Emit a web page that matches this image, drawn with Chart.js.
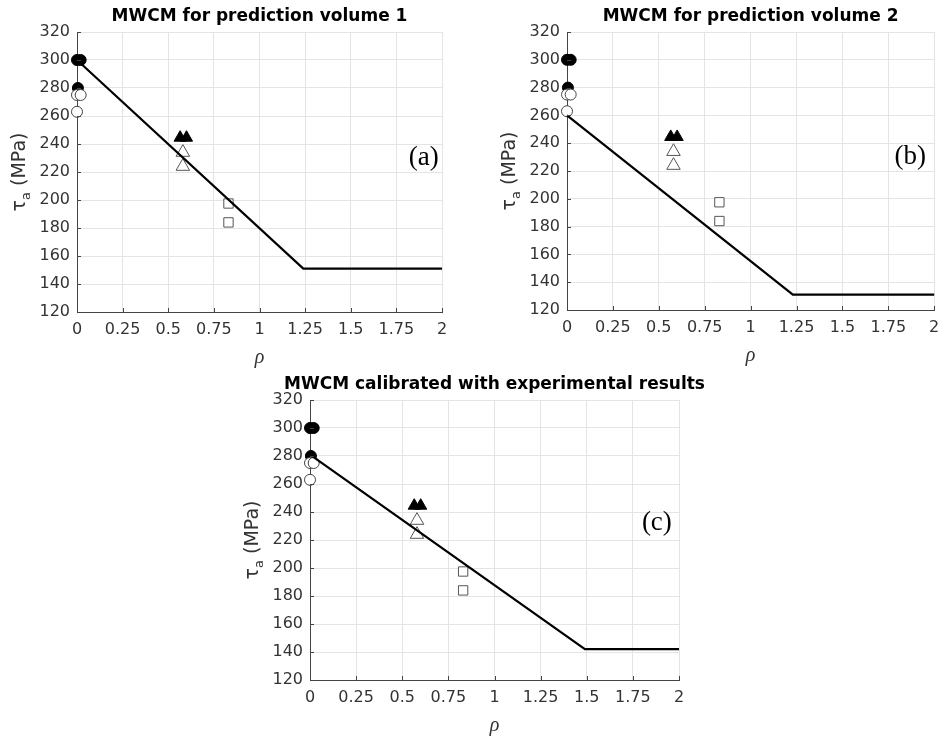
<!DOCTYPE html>
<html>
<head>
<meta charset="utf-8">
<script src="https://cdn.jsdelivr.net/npm/chart.js@4.4.0/dist/chart.umd.min.js"></script>
<style>
html, body { margin: 0; padding: 0; background: #fff; }
body { width: 943px; height: 737px; position: relative; overflow: hidden; }
.panel { position: absolute; }
</style>
</head>
<body>
<div class="panel" style="left:0;top:0;width:460px;height:370px"><canvas id="chartA"></canvas></div>
<div class="panel" style="left:480px;top:0;width:463px;height:370px"><canvas id="chartB"></canvas></div>
<div class="panel" style="left:220px;top:370px;width:490px;height:367px"><canvas id="chartC"></canvas></div>
<script>
// Axis ticks
const xTicks = [0, 0.25, 0.5, 0.75, 1, 1.25, 1.5, 1.75, 2];
const yTicks = [120, 140, 160, 180, 200, 220, 240, 260, 280, 300, 320];

// Experimental points (same on all three panels)
const filledCircleX = [0, 0.02, 0.005];
const filledCircleY = [300, 300, 280];
const openCircleX = [0, 0.02, 0];
const openCircleY = [275, 275, 263];
const filledTriX = [0.565, 0.6];
const filledTriY = [244.5, 244.5];
const openTriX = [0.58, 0.58];
const openTriY = [234, 224];
const squareX = [0.83, 0.83];
const squareY = [197.5, 184];

// MWCM curves
const modelAX = [0, 1.24, 2];
const modelAY = [300, 151, 151];
const modelBX = [0, 1.23, 2];
const modelBY = [260, 131, 131];
const modelCX = [0, 1.49, 2];
const modelCY = [281, 142, 142];

const titles = ['MWCM for prediction volume 1', 'MWCM for prediction volume 2', 'MWCM calibrated with experimental results'];
const panelLabels = ['(a)', '(b)', '(c)'];
const panelLabelX = [1.9, 1.87, 1.88];
const panelLabelY = [230, 230, 232];

function pts(xs, ys) {
    return xs.map((x, i) => ({x: x, y: ys[i]}));
}

const sans = '"DejaVu Sans", Verdana, sans-serif';

// Draws title, axis labels and panel letter
const textPlugin = {
    id: 'textPlugin',
    afterDraw(chart, args, opts) {
        const ctx = chart.ctx;
        const area = chart.chartArea;
        const xs = chart.scales.x;
        const ys = chart.scales.y;
        const cx = (area.left + area.right) / 2;
        const cy = (area.top + area.bottom) / 2;
        ctx.save();

        // inward tick marks
        ctx.strokeStyle = '#444';
        ctx.lineWidth = 1;
        ctx.beginPath();
        xTicks.forEach(v => {
            const px = Math.round(xs.getPixelForValue(v)) + 0.5;
            ctx.moveTo(px, area.bottom);
            ctx.lineTo(px, area.bottom - 4);
        });
        yTicks.forEach(v => {
            const py = Math.round(ys.getPixelForValue(v)) + 0.5;
            ctx.moveTo(area.left, py);
            ctx.lineTo(area.left + 4, py);
        });
        ctx.stroke();

        // title
        ctx.fillStyle = '#000';
        ctx.font = 'bold 17px ' + sans;
        ctx.textAlign = 'center';
        ctx.textBaseline = 'middle';
        ctx.fillText(opts.title, cx, area.top - 15);

        // x label
        ctx.fillStyle = '#333';
        ctx.font = 'italic 20px "Liberation Serif", serif';
        ctx.fillText('\u03C1', cx, area.bottom + 46);

        // y label: tau_a (MPa)
        ctx.translate(area.left - 52, cy);
        ctx.rotate(-Math.PI / 2);
        ctx.textAlign = 'left';
        ctx.textBaseline = 'alphabetic';
        const big = '19px ' + sans;
        const small = '13px ' + sans;
        ctx.font = big;
        const wTau = ctx.measureText('\u03C4').width;
        const wUnit = ctx.measureText(' (MPa)').width;
        ctx.font = small;
        const wSub = ctx.measureText('a').width;
        let x0 = -(wTau + wSub + wUnit) / 2;
        ctx.font = big;
        ctx.fillText('\u03C4', x0, 0);
        ctx.font = small;
        ctx.fillText('a', x0 + wTau, 5);
        ctx.font = big;
        ctx.fillText(' (MPa)', x0 + wTau + wSub, 0);
        ctx.setTransform(1, 0, 0, 1, 0, 0);
        ctx.restore();

        // panel letter
        ctx.save();
        ctx.fillStyle = '#000';
        ctx.font = '27px "Liberation Serif", "Times New Roman", serif';
        ctx.textAlign = 'center';
        ctx.textBaseline = 'middle';
        ctx.fillText(opts.label, xs.getPixelForValue(opts.lx), ys.getPixelForValue(opts.ly));
        ctx.restore();
    }
};

function makeChart(id, idx, lineX, lineY, box) {
    const ctx = document.getElementById(id).getContext('2d');
    const tickFont = {family: sans, size: 16};
    return new Chart(ctx, {
        type: 'scatter',
        data: {
            datasets: [
                {
                    label: 'MWCM',
                    data: pts(lineX, lineY),
                    showLine: true,
                    borderColor: '#000',
                    borderWidth: 2.2,
                    pointRadius: 0
                },
                {
                    label: 'squares',
                    data: pts(squareX, squareY),
                    pointStyle: 'rect',
                    pointRadius: 6.6,
                    backgroundColor: '#fff',
                    borderColor: '#555',
                    borderWidth: 1
                },
                {
                    label: 'open triangles',
                    data: pts(openTriX, openTriY),
                    pointStyle: 'triangle',
                    pointRadius: 7.8,
                    backgroundColor: '#fff',
                    borderColor: '#555',
                    borderWidth: 1
                },
                {
                    label: 'filled triangles',
                    data: pts(filledTriX, filledTriY),
                    pointStyle: 'triangle',
                    pointRadius: 7,
                    backgroundColor: '#000',
                    borderColor: '#000',
                    borderWidth: 1
                },
                {
                    label: 'open circles',
                    data: pts(openCircleX, openCircleY),
                    pointStyle: 'circle',
                    pointRadius: 5.5,
                    backgroundColor: '#fff',
                    borderColor: '#444',
                    borderWidth: 1
                },
                {
                    label: 'filled circles',
                    data: pts(filledCircleX, filledCircleY),
                    pointStyle: 'circle',
                    pointRadius: 5.5,
                    backgroundColor: '#000',
                    borderColor: '#000',
                    borderWidth: 1
                }
            ].map(d => Object.assign({clip: false, pointHoverRadius: d.pointRadius}, d))
        },
        options: {
            responsive: true,
            maintainAspectRatio: false,
            animation: false,
            events: [],
            layout: {padding: {left: 0, top: box.top, right: box.right, bottom: 0}},
            plugins: {
                legend: {display: false},
                tooltip: {enabled: false},
                textPlugin: {title: titles[idx], label: panelLabels[idx], lx: panelLabelX[idx], ly: panelLabelY[idx]}
            },
            scales: {
                x: {
                    type: 'linear',
                    min: 0,
                    max: 2,
                    afterBuildTicks: s => { s.ticks = xTicks.map(v => ({value: v})); },
                    afterFit: s => { s.height = box.bottom; s.paddingLeft = 0; s.paddingRight = 0; },
                    ticks: {
                        callback: v => String(v),
                        color: '#333',
                        font: tickFont,
                        padding: 8,
                        maxRotation: 0,
                        autoSkip: false
                    },
                    grid: {color: '#e4e4e4', drawTicks: false},
                    border: {display: true, color: '#444'}
                },
                y: {
                    type: 'linear',
                    min: 120,
                    max: 320,
                    afterBuildTicks: s => { s.ticks = yTicks.map(v => ({value: v})); },
                    afterFit: s => { s.width = box.left; s.paddingTop = 0; s.paddingBottom = 0; },
                    ticks: {
                        callback: v => String(v),
                        color: '#333',
                        font: tickFont,
                        padding: 7,
                        autoSkip: false
                    },
                    grid: {color: '#e4e4e4', drawTicks: false},
                    border: {display: true, color: '#444'}
                }
            }
        },
        plugins: [textPlugin]
    });
}

makeChart('chartA', 0, modelAX, modelAY, {left: 77, top: 32, right: 18, bottom: 58});
makeChart('chartB', 1, modelBX, modelBY, {left: 87, top: 32, right: 7, bottom: 60});
makeChart('chartC', 2, modelCX, modelCY, {left: 90, top: 30, right: 31, bottom: 57});
</script>
</body>
</html>
